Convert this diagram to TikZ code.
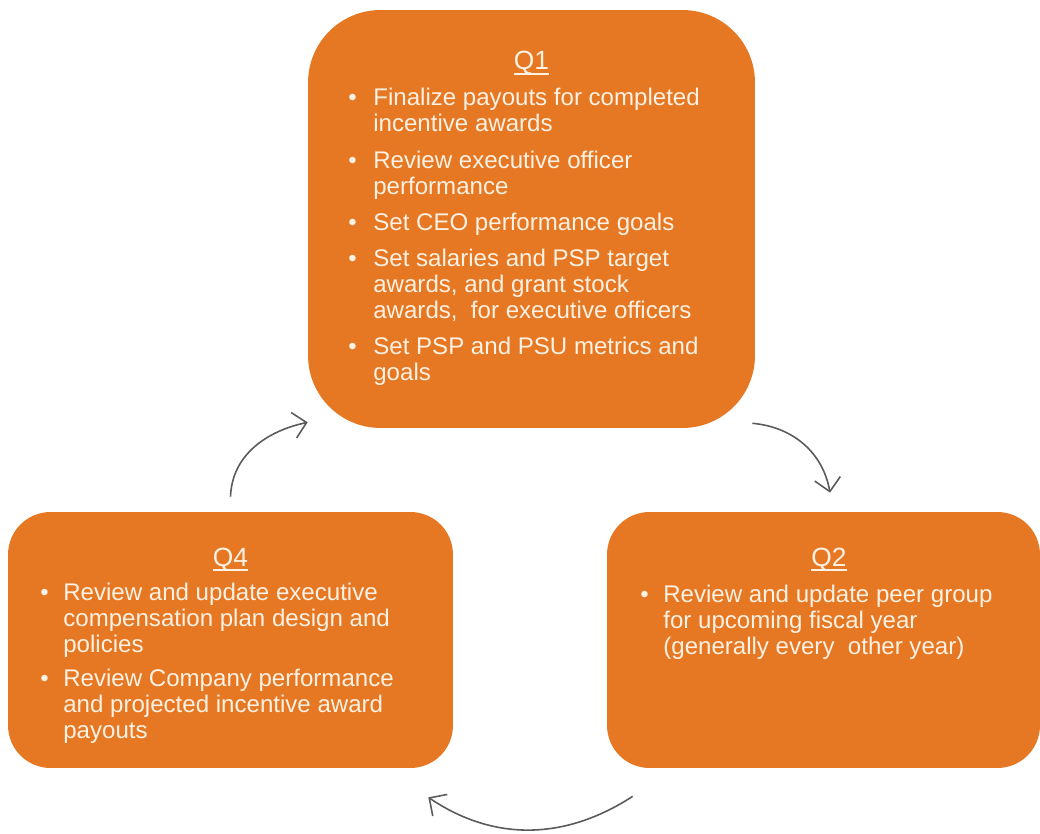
\documentclass[tikz,border=0pt]{standalone}
\usepackage{fontspec}
\setmainfont{Liberation Sans}
\usetikzlibrary{arrows.meta,calc}
\definecolor{qorange}{HTML}{E67823}
\definecolor{qtext}{HTML}{FFF1E3}
\definecolor{cycgray}{HTML}{5A5A5A}
\newcommand{\qfont}{\fontsize{13.7}{14.8}\selectfont}
\newcommand{\qtfont}{\fontsize{15}{16}\selectfont}
\newcommand{\bul}{\textbullet}
\newcommand{\qul}[1]{\setbox0\hbox{#1}\rlap{\rule[-2.6pt]{\wd0}{0.9pt}}\box0}

\begin{document}
\begin{tikzpicture}[
  x=0.02cm, y=0.02cm,
  qbox/.style={fill=qorange, draw=none, inner sep=0pt},
  qtitle/.style={anchor=base, text=qtext, inner sep=0pt, font=\qtfont},
  qbody/.style={anchor=base west, text=qtext, inner sep=0pt, font=\qfont},
  cyc/.style={-{Straight Barb[length=2.6mm, width=5.2mm]}, draw=cycgray, line width=0.9pt},
]
\useasboundingbox (0,0) rectangle (1040,-834);

\node[qbox, minimum width=8.94cm, minimum height=8.36cm, rounded corners=1.45cm] (q1) at (531.5,-219) {};
\node[qbox, minimum width=8.9cm, minimum height=5.12cm, rounded corners=0.85cm] (q4) at (230.5,-640) {};
\node[qbox, minimum width=8.66cm, minimum height=5.12cm, rounded corners=0.85cm] (q2) at (823.5,-640) {};

\node[qtitle] (q1t) at (531.5,-70) {\qul{Q1}};
\node[qbody] (q1b) at (348,-106) {%
  \begin{tabular}[t]{@{}p{0.5cm}@{}l@{}}
  \bul & Finalize payouts for completed\\
       & incentive awards\\[0.2cm]
  \bul & Review executive officer\\
       & performance\\[0.2cm]
  \bul & Set CEO performance goals\\[0.2cm]
  \bul & Set salaries and PSP target\\
       & awards, and grant stock\\
       & awards,\ \ for executive officers\\[0.2cm]
  \bul & Set PSP and PSU metrics and\\
       & goals
  \end{tabular}};

\node[qtitle] (q4t) at (230.5,-566) {\qul{Q4}};
\node[qbody] (q4b) at (40,-600) {%
  \begin{tabular}[t]{@{}p{0.46cm}@{}l@{}}
  \bul & Review and update executive\\
       & compensation plan design and\\
       & policies\\[0.16cm]
  \bul & Review Company performance\\
       & and projected incentive award\\
       & payouts
  \end{tabular}};

\node[qtitle] (q2t) at (829,-566) {\qul{Q2}};
\node[qbody] (q2b) at (640,-602) {%
  \begin{tabular}[t]{@{}p{0.46cm}@{}l@{}}
  \bul & Review and update peer group\\
       & for upcoming fiscal year\\
       & (generally every\ \ other year)
  \end{tabular}};

% ── Cycle arrows ─────────────────────────────────────────────
\draw[cyc] ($(q4.north)+(0,15)$) to[out=88, in=192] ($(q1.south west)+(0,6)$);
\draw[cyc] ($(q1.south east)+(-3,5)$) to[out=-5, in=100] ($(q2.north)+(6.5,19)$);
\draw[cyc] ($(q2.south west)+(26,-28)$) to[out=213, in=-34] ($(q4.south east)+(-25,-29)$);

\end{tikzpicture}
\end{document}
